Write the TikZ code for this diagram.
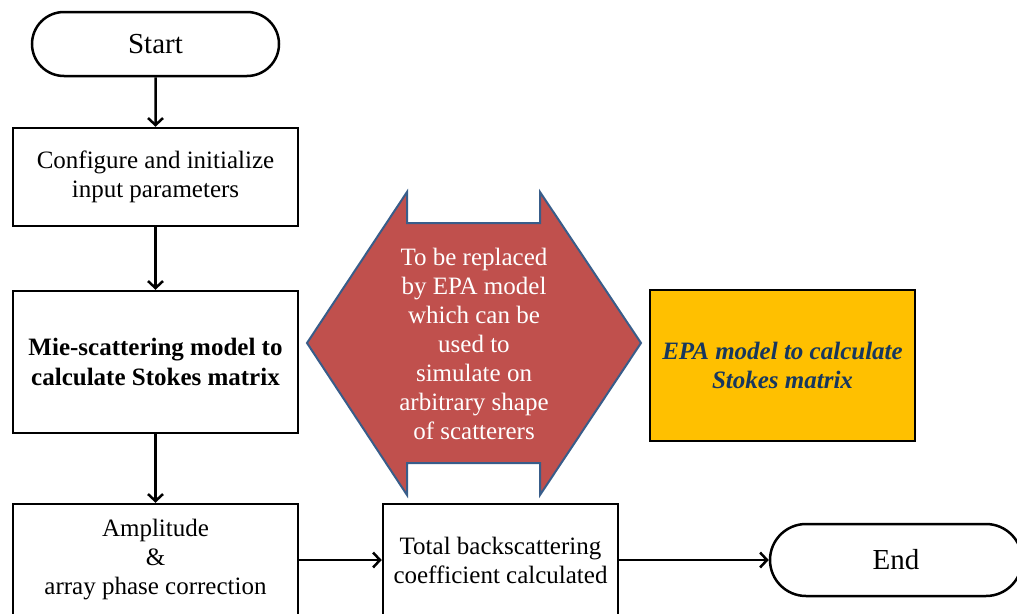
\documentclass[tikz,border=0pt]{standalone}
\usepackage{fontspec}
\setmainfont{Liberation Serif}
\usetikzlibrary{positioning, arrows.meta, shapes.misc}

\definecolor{epared}{RGB}{192,80,77}
\definecolor{epaedge}{RGB}{56,93,138}
\definecolor{epagold}{RGB}{255,192,0}
\definecolor{epanavy}{RGB}{23,55,94}

\begin{document}
\begin{tikzpicture}[x=1pt, y=1pt,
    every node/.style={font=\fontsize{25}{29}\selectfont},
    stepbox/.style={draw, line width=2.5pt, align=center, inner sep=0pt},
    terminal/.style={draw, rounded rectangle, line width=2.5pt, inner sep=0pt, font=\fontsize{29}{33}\selectfont},
    flow/.style={-{Straight Barb[length=7pt, width=15pt]}, line width=2.5pt}]
    \useasboundingbox (0, 0) rectangle (1017, -613);
    % Main flow
    \node [terminal, minimum width=247pt, minimum height=64pt] (start) at (155.5, -44) {Start};
    \node [stepbox, minimum width=285pt, minimum height=98pt] (config) at (155.5, -177) {Configure and initialize\\input parameters};
    \node [stepbox, minimum width=285pt, minimum height=142pt, font=\fontsize{25}{30}\selectfont\bfseries] (mie) at (155.5, -362) {Mie-scattering model to\\calculate Stokes matrix};
    \node [stepbox, minimum width=285pt, minimum height=112pt] (ampl) at (155.5, -560) {Amplitude\\\&\\array phase correction};
    \node [stepbox, minimum width=235pt, minimum height=112pt] (total) at (500.5, -560) {Total backscattering\\coefficient calculated};
    \node [terminal, minimum width=252pt, minimum height=72pt] (end) at (896, -560) {End};
    % Arrows
    \draw [flow] (start) -- (config);
    \draw [flow] (config) -- (mie);
    \draw [flow] (mie) -- (ampl);
    \draw [flow] (ampl) -- (total);
    \draw [flow] (total) -- (end);
    % Replacement note (double arrow)
    \filldraw [fill=epared, draw=epaedge, line width=2pt, line join=miter]
        (307, -343) -- (407, -192) -- (407, -223) -- (540, -223) -- (540, -192) -- (641, -343)
        -- (540, -495) -- (540, -463) -- (407, -463) -- (407, -495) -- cycle;
    \node [white, align=center] (note) at (474, -344) {To be replaced\\by EPA model\\which can be\\used to\\simulate on\\arbitrary shape\\of scatterers};
    % EPA model
    \node [draw, fill=epagold, line width=2.5pt, minimum width=265pt, minimum height=151pt, align=center, text=epanavy, font=\fontsize{25}{29}\selectfont\bfseries\itshape] (epa) at (782.5, -365.5) {EPA model to calculate\\Stokes matrix};
\end{tikzpicture}
\end{document}
